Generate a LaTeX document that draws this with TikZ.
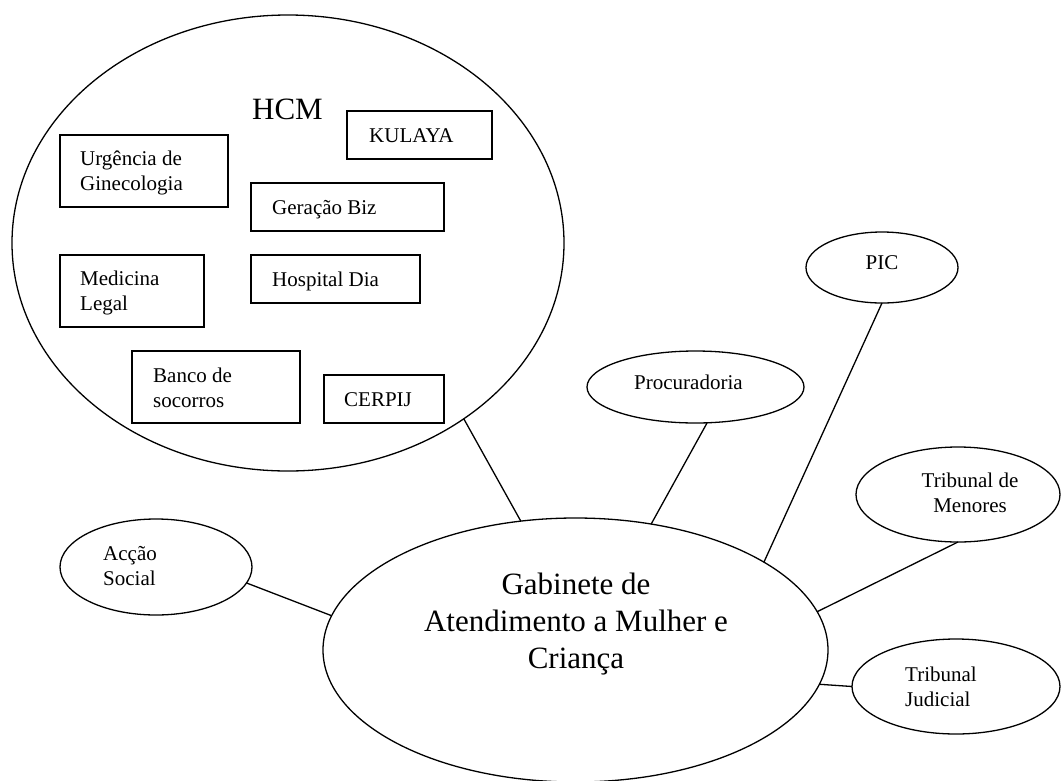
\documentclass[tikz,border=0pt]{standalone}
\usepackage{fontspec}
\setmainfont{Liberation Serif}
\usetikzlibrary{shapes.geometric}
\newcommand\smallfs{\fontsize{21}{25}\selectfont}
\newcommand\bigfs{\fontsize{31}{37}\selectfont}
\newcommand\txtlines[2][l]{\begin{tabular}[t]{@{}#1@{}}#2\end{tabular}}
\tikzset{
  oval/.style={draw, ellipse, line width=1.3pt, inner sep=0pt, outer sep=0pt},
  boxnode/.style={draw, rectangle, line width=1.5pt, inner sep=0pt, outer sep=0pt},
  lbl/.style={inner sep=0pt, font=\smallfs},
  biglbl/.style={inner sep=0pt, font=\bigfs},
  link/.style={line width=1.3pt}
}
\begin{document}
\begin{tikzpicture}[x=1pt,y=-1pt]
\useasboundingbox (0,0) rectangle (1061,780);

% ellipses
\node[oval, minimum width=552pt, minimum height=456pt] (hcm) at (288,243) {};
\node[oval, minimum width=505pt, minimum height=264pt] (gab) at (575.5,650) {};
\node[oval, minimum width=192pt, minimum height=96pt] (acc) at (156,567) {};
\node[oval, minimum width=217pt, minimum height=72pt] (pro) at (695.5,387) {};
\node[oval, minimum width=152pt, minimum height=71pt] (pic) at (882,267.5) {};
\node[oval, minimum width=204pt, minimum height=95pt] (men) at (958,494.5) {};
\node[oval, minimum width=208pt, minimum height=95pt] (jud) at (956,686.5) {};

% boxes inside HCM
\node[boxnode, minimum width=168pt, minimum height=72pt] (urg) at (144,171) {};
\node[boxnode, minimum width=145pt, minimum height=48pt] (kul) at (419.5,135) {};
\node[boxnode, minimum width=193pt, minimum height=48pt] (ger) at (347.5,207) {};
\node[boxnode, minimum width=144pt, minimum height=72pt] (med) at (132,291) {};
\node[boxnode, minimum width=169pt, minimum height=48pt] (hos) at (335.5,279) {};
\node[boxnode, minimum width=168pt, minimum height=72pt] (ban) at (216,387) {};
\node[boxnode, minimum width=120pt, minimum height=48pt] (cer) at (384,399) {};

% texts
\node[biglbl, anchor=base] (hcmT) at (287.5,119) {HCM};
\node[lbl, anchor=base west] (kulT) at (369,142) {KULAYA};
\node[lbl, anchor=base west] (urgT) at (80,165) {\txtlines{Urgência de\\Ginecologia}};
\node[lbl, anchor=base west] (gerT) at (272,214) {Geração Biz};
\node[lbl, anchor=base west] (medT) at (80,285) {\txtlines{Medicina\\Legal}};
\node[lbl, anchor=base west] (hosT) at (272,286) {Hospital Dia};
\node[lbl, anchor=base west] (banT) at (153,382) {\txtlines{Banco de\\socorros}};
\node[lbl, anchor=base west] (cerT) at (344,406) {CERPIJ};

\node[biglbl, anchor=base] (gabT) at (576,594) {\txtlines[c]{Gabinete de\\Atendimento a Mulher e\\Criança}};
\node[lbl, anchor=base west] (accT) at (103,560) {\txtlines{Acção\\Social}};
\node[lbl, anchor=base west] (proT) at (634,389) {Procuradoria};
\node[lbl, anchor=base] (picT) at (882,269) {PIC};
\node[lbl, anchor=base] (menT) at (970,487) {\txtlines[c]{Tribunal de\\Menores}};
\node[lbl, anchor=base west] (judT) at (905,681) {\txtlines{Tribunal\\Judicial}};

% connectors
\draw[link] (hcm.-45.5) -- (gab.113.3);
\draw[link] (pro.-72.3) -- (gab.59.5);
\draw[link] (pic.south) -- (gab.25.5);
\draw[link] (men.south) -- (gab.9.2);
\draw[link] (jud.west) -- (gab.-8.4);
\draw[link] (acc.-10.6) -- (gab.172.5);
\end{tikzpicture}
\end{document}
